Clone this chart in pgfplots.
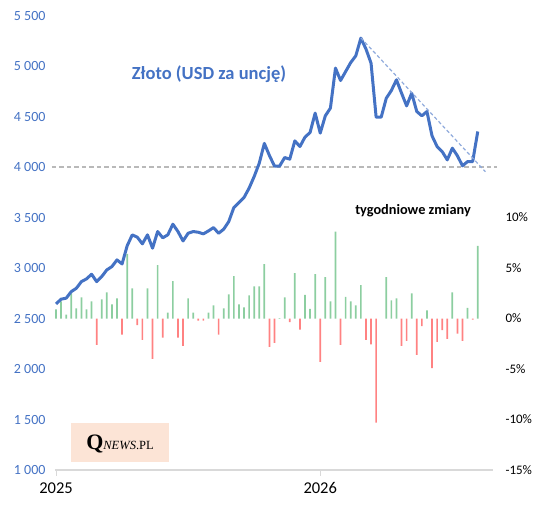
\documentclass[border=0pt]{standalone}
\usepackage{pgfplots}
\pgfplotsset{compat=1.18}
\usepackage{pgfplotstable}
\usepackage{fontspec}
\setmainfont{Carlito}
\newfontfamily\logofont{Liberation Serif}

\definecolor{goldblue}{RGB}{68,114,196}
\definecolor{barg}{RGB}{140,206,160}
\definecolor{barr}{RGB}{255,130,130}
\definecolor{dashgray}{RGB}{185,185,185}
\definecolor{trendblue}{RGB}{143,170,220}
\definecolor{axisgray}{RGB}{217,217,217}
\definecolor{logobg}{RGB}{252,228,214}

\pgfplotstableread{
i p
0 2645
1 2692
2 2702
3 2767
4 2800
5 2866
6 2893
7 2939
8 2866
9 2916
10 2982
11 3015
12 3081
13 3041
14 3220
15 3329
16 3306
17 3240
18 3329
19 3197
20 3362
21 3300
22 3329
23 3435
24 3362
25 3269
26 3345
27 3362
28 3355
29 3339
30 3368
31 3401
32 3345
33 3385
34 3461
35 3600
36 3649
37 3699
38 3792
39 3907
40 4039
41 4235
42 4115
43 4010
44 4010
45 4095
46 4079
47 4260
48 4204
49 4297
50 4343
51 4535
52 4337
53 4508
54 4584
55 4981
56 4858
57 4947
58 5036
59 5103
60 5278
61 5170
62 5030
63 4495
64 4495
65 4683
66 4759
67 4865
68 4733
69 4607
70 4733
71 4551
72 4508
73 4551
74 4310
75 4204
76 4154
77 4072
78 4188
79 4112
80 4013
81 4055
82 4055
83 4353
}\pricetab

\pgfplotstableread{
i r
0 0.9
1 1.7
2 0.4
3 2.5
4 1.0
5 2.1
6 0.9
7 1.7
8 -2.6
9 1.9
10 2.6
11 1.4
12 2.0
13 -1.6
14 6.4
15 3.0
16 -0.65
17 -2.1
18 3.0
19 -4.0
20 5.3
21 -1.9
22 0.6
23 3.7
24 -1.9
25 -2.7
26 2.0
27 0.6
28 -0.2
29 -0.2
30 0.6
31 1.3
32 -1.6
33 1.0
34 2.4
35 4.2
36 1.4
37 1.1
38 2.3
39 3.2
40 3.2
41 5.4
42 -2.8
43 -2.4
44 0.05
45 2.1
46 -0.35
47 4.5
48 -1.1
49 2.35
50 0.95
51 4.4
52 -4.3
53 4.1
54 1.7
55 8.6
56 -2.6
57 2.15
58 1.7
59 1.3
60 3.3
61 -2.1
62 -2.55
63 -10.3
64 0
65 4.1
66 1.8
67 2.0
68 -2.7
69 -2.2
70 2.5
71 -3.6
72 -0.75
73 0.8
74 -4.9
75 -2.3
76 -1.15
77 -2.0
78 2.6
79 -1.5
80 -2.2
81 1.05
82 -0.1
83 7.2
}\chgtab

\begin{document}
\begin{tikzpicture}
\path[use as bounding box] (0,0) rectangle (542pt,511pt);

% right axis: weekly changes
\begin{axis}[
  at={(55pt,41pt)}, anchor=south west,
  scale only axis, width=438pt, height=454.3pt,
  xmin=-0.2, xmax=86, ymin=-15, ymax=30,
  axis y line*=right, axis x line=none,
  y axis line style={draw=none},
  xtick=\empty,
  ytick={-15,-10,-5,0,5,10},
  yticklabel={\pgfmathprintnumber{\tick}\%},
  yticklabel style={font=\fontsize{13}{15}\selectfont, xshift=9pt, /pgf/number format/assume math mode=true},
  ytick style={draw=none},
  major tick length=0pt,
  ybar, bar width=1.7pt, bar shift=0pt,
]
\addplot[fill=barg, draw=none, restrict y to domain=0.001:100] table[x=i,y=r]{\chgtab};
\addplot[fill=barr, draw=none, restrict y to domain=-100:-0.001] table[x=i,y=r]{\chgtab};
\end{axis}

% left axis: gold price
\begin{axis}[
  at={(55pt,41pt)}, anchor=south west,
  scale only axis, width=438pt, height=454.3pt,
  xmin=-0.2, xmax=86, ymin=1000, ymax=5500,
  axis x line*=bottom, axis y line*=left,
  y axis line style={draw=none},
  x axis line style={draw=axisgray, line width=1.3pt},
  ytick={1000,1500,...,5500}, scaled y ticks=false,
  yticklabel style={font=\fontsize{14}{16}\selectfont, text=goldblue,
     /pgf/number format/.cd, 1000 sep={\ }, assume math mode=true},
  ytick style={draw=none},
  xtick={0,52}, xticklabels={2025,2026},
  xtick style={draw=axisgray, line width=1pt},
  tick align=outside, major tick length=6pt,
  xticklabel style={font=\fontsize{16.5}{18}\selectfont, yshift=-3pt},
  clip=false,
]
\addplot[dashgray, line width=1.3pt, dash pattern=on 4.5pt off 3pt] coordinates {(-0.8,4000) (86.8,4000)};
\addplot[goldblue, line width=3pt, line join=round, mark=none] table[x=i,y=p]{\pricetab};
\addplot[trendblue, line width=1.2pt, dash pattern=on 3.5pt off 2.5pt] coordinates {(60,5280) (84.5,3955)};
\end{axis}

\node[font=\bfseries\fontsize{18.5}{20}\selectfont, text=goldblue] at (209pt,437pt) {Złoto (USD za uncję)};
\node[font=\bfseries\fontsize{14.3}{16}\selectfont] at (413pt,300pt) {tygodniowe zmiany};
\fill[logobg] (71pt,49pt) rectangle (169pt,88pt);
\node at (120pt,67pt) {\logofont{\bfseries\fontsize{22}{22}\selectfont Q}{\logofont\fontsize{12.5}{12.5}\selectfont\itshape NEWS}{\logofont\fontsize{12.5}{12.5}\selectfont .PL}};
\end{tikzpicture}
\end{document}
